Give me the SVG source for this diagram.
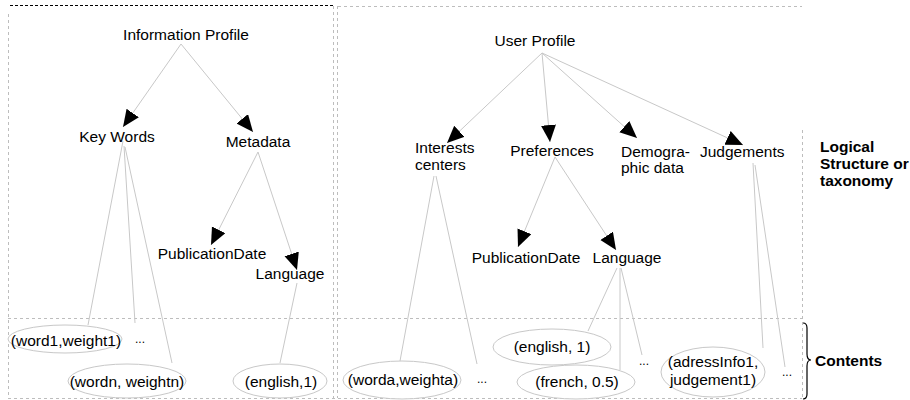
<svg xmlns="http://www.w3.org/2000/svg" width="910" height="400" viewBox="0 0 910 400">
<style>
text{font-family:"Liberation Sans",Arial,sans-serif;font-size:15.5px;fill:#000}
.b{font-weight:bold}
.c{text-anchor:middle}
.dots{font-size:12px}
.frame{fill:none;stroke:#bdbdbd;stroke-width:1;stroke-dasharray:3,3}
.blk{fill:none;stroke:#000;stroke-width:1.2;stroke-dasharray:3,2}
.ln{fill:none;stroke:#c8c8c8;stroke-width:1}
.arr{marker-end:url(#ah)}
ellipse{fill:#fff;stroke:#c8c8c8;stroke-width:1}
</style>
<defs>
<marker id="ah" markerUnits="userSpaceOnUse" markerWidth="20" markerHeight="18" refX="17" refY="7.5" orient="auto">
<path d="M0,0 L17,7.5 L0,15 z" fill="#000"/>
</marker>
</defs>
<rect width="910" height="400" fill="#fff"/>
<g id="frames">
<line class="blk" x1="10" y1="5.5" x2="333" y2="5.5"/>
<line class="frame" x1="8.5" y1="14" x2="8.5" y2="398"/>
<line class="frame" x1="333.5" y1="6" x2="333.5" y2="398"/>
<line class="frame" x1="337.5" y1="6" x2="337.5" y2="398"/>
<line class="frame" x1="338" y1="6.5" x2="802" y2="6.5"/>
<line class="frame" x1="802.5" y1="130" x2="802.5" y2="398"/>
<line class="frame" x1="8" y1="318.5" x2="802" y2="318.5"/>
<line class="frame" x1="8" y1="398.5" x2="802" y2="398.5"/>
<path d="M803,323 q4,0 4,5 v26 q0,6 4,6 q-4,0 -4,6 v28 q0,5 -4,5" fill="none" stroke="#000" stroke-width="1.2"/>
</g>
<g id="connectors">
<line class="ln arr" x1="181" y1="44" x2="123" y2="127"/>
<line class="ln arr" x1="181" y1="44" x2="253" y2="132"/>
<line class="ln" x1="123" y1="141" x2="88" y2="325"/>
<line class="ln" x1="124" y1="146" x2="135" y2="323"/>
<line class="ln" x1="125" y1="147" x2="172" y2="363"/>
<line class="ln arr" x1="258" y1="152" x2="211" y2="245"/>
<line class="ln arr" x1="258" y1="152" x2="297" y2="270"/>
<line class="ln" x1="297" y1="283" x2="280" y2="363"/>
<line class="ln arr" x1="542" y1="53" x2="447" y2="143"/>
<line class="ln arr" x1="542" y1="53" x2="550" y2="142"/>
<line class="ln arr" x1="542" y1="53" x2="637" y2="138"/>
<line class="ln arr" x1="542" y1="53" x2="743" y2="145"/>
<line class="ln" x1="434" y1="176" x2="400" y2="361"/>
<line class="ln" x1="436" y1="176" x2="477" y2="364"/>
<line class="ln arr" x1="555" y1="157" x2="518" y2="247"/>
<line class="ln arr" x1="555" y1="157" x2="616" y2="250"/>
<line class="ln" x1="617" y1="268" x2="588" y2="331"/>
<line class="ln" x1="620" y1="268" x2="620" y2="370"/>
<line class="ln" x1="621" y1="268" x2="642" y2="355"/>
<line class="ln" x1="753" y1="163" x2="763" y2="348"/>
<line class="ln" x1="755" y1="165" x2="785" y2="367"/>
</g>
<g id="information-profile"><text class="c" x="186" y="39.5">Information Profile</text></g>
<g id="key-words"><text class="c" x="117" y="142">Key Words</text></g>
<g id="metadata"><text class="c" x="258" y="147">Metadata</text></g>
<g id="publicationdate-left"><text class="c" x="212" y="259">PublicationDate</text></g>
<g id="language-left"><text class="c" x="290" y="279">Language</text></g>
<g id="word1"><ellipse cx="65" cy="339" rx="57" ry="14"/><text class="c" x="66" y="346">(word1,weight1)</text></g>
<g id="dots1"><text class="dots" x="135" y="343">...</text></g>
<g id="wordn"><ellipse cx="127" cy="381" rx="59" ry="17"/><text class="c" x="127" y="387">(wordn, weightn)</text></g>
<g id="english-left"><ellipse cx="280" cy="381" rx="47" ry="17"/><text class="c" x="281" y="387">(english,1)</text></g>
<g id="user-profile"><text class="c" x="535" y="46">User Profile</text></g>
<g id="interests"><text x="415" y="153">Interests</text><text x="415" y="170">centers</text></g>
<g id="preferences"><text class="c" x="552" y="156">Preferences</text></g>
<g id="demographic"><text x="621" y="157">Demogra-</text><text x="621" y="173">phic data</text></g>
<g id="judgements"><text x="700" y="157">Judgements</text></g>
<g id="publicationdate-right"><text class="c" x="526" y="263">PublicationDate</text></g>
<g id="language-right"><text class="c" x="627" y="263">Language</text></g>
<g id="english-right"><ellipse cx="552" cy="347" rx="59" ry="18"/><text class="c" x="552" y="352">(english, 1)</text></g>
<g id="worda"><ellipse cx="402" cy="380" rx="59" ry="19"/><text class="c" x="403" y="385">(worda,weighta)</text></g>
<g id="dots2"><text class="dots" x="477" y="383">...</text></g>
<g id="french"><ellipse cx="576" cy="382" rx="59" ry="17"/><text class="c" x="577" y="387">(french, 0.5)</text></g>
<g id="dots3"><text class="dots" x="639" y="365">...</text></g>
<g id="adressinfo"><ellipse cx="713" cy="372" rx="52" ry="25"/><text class="c" x="713" y="367">(adressInfo1,</text><text class="c" x="713" y="385">judgement1)</text></g>
<g id="dots4"><text class="dots" x="782" y="376">...</text></g>
<g id="logical-label"><text class="b" x="820" y="152">Logical</text><text class="b" x="820" y="169">Structure or</text><text class="b" x="820" y="186">taxonomy</text></g>
<g id="contents-label"><text class="b" x="815" y="366">Contents</text></g>
</svg>
